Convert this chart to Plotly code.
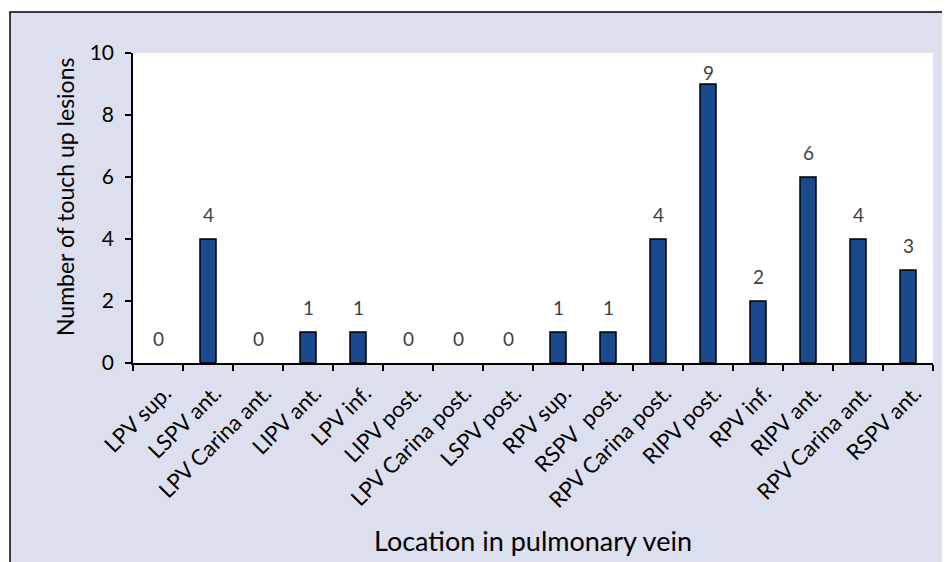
import plotly.graph_objects as go

categories = ["LPV sup.", "LSPV ant.", "LPV Carina ant.", "LIPV ant.", "LPV inf.",
              "LIPV post.", "LPV Carina post.", "LSPV post.", "RPV sup.", "RSPV  post.",
              "RPV Carina post.", "RIPV post.", "RPV inf.", "RIPV ant.", "RPV Carina ant.",
              "RSPV ant."]
values = [0, 4, 0, 1, 1, 0, 0, 0, 1, 1, 4, 9, 2, 6, 4, 3]
y_ticks = [0, 2, 4, 6, 8, 10]

W, H = 950, 562
OFF = 8  # page body offset
L, R, T, B = 133 - OFF, 17 + OFF, 53 - OFF, 199 + OFF
pw, ph = W - L - R, H - T - B
FONT = "Lato, 'Open Sans', sans-serif"


def px_x(sx):
    return (sx - OFF - L) / pw


def px_y(sy):
    return (H - B - (sy - OFF)) / ph


fig = go.Figure()
fig.add_trace(go.Bar(
    x=categories, y=values, width=0.32,
    marker=dict(color="#1A4A8D",
                line=dict(color="#000000", width=[1.5 if v > 0 else 0 for v in values])),
    hoverinfo="skip",
))

px_per_unit = ph / (y_ticks[-1] - y_ticks[0])
annotations = []
for c, v in zip(categories, values):
    dist_top = (y_ticks[-1] - v) * px_per_unit
    ys = min(25, dist_top - 19)
    annotations.append(dict(x=c, y=v, xref="x", yref="y", text=str(v), showarrow=False,
                            yshift=ys, xanchor="center", yanchor="middle",
                            font=dict(family=FONT, size=19, color="#404040")))

annotations.append(dict(x=px_x(533), y=px_y(540), xref="paper", yref="paper",
                        xanchor="center", yanchor="middle",
                        text="Location in pulmonary vein", showarrow=False,
                        font=dict(family=FONT, size=27, color="#000000")))
annotations.append(dict(x=px_x(65), y=px_y(197), xref="paper", yref="paper",
                        xanchor="center", yanchor="middle",
                        text="Number of touch up lesions", showarrow=False, textangle=-90,
                        font=dict(family=FONT, size=23, color="#000000")))

shapes = [
    dict(type="rect", xref="paper", yref="paper", layer="below",
         x0=px_x(10), x1=px_x(W + 20), y0=px_y(H + 20), y1=px_y(12),
         fillcolor="#DCDFEE", line=dict(color="#000000", width=1.5)),
    dict(type="rect", xref="paper", yref="paper", layer="below",
         x0=0, x1=1, y0=0, y1=1, fillcolor="#FFFFFF", line=dict(width=0)),
]

fig.update_layout(
    width=W, height=H,
    margin=dict(l=L, r=R, t=T, b=B),
    paper_bgcolor="#FFFFFF", plot_bgcolor="#FFFFFF",
    showlegend=False,
    font=dict(family=FONT, size=17, color="#000000"),
    annotations=annotations, shapes=shapes,
    xaxis=dict(type="category", tickson="boundaries", ticks="outside", ticklen=6,
               tickcolor="#000000", tickwidth=1.5, showline=True, linecolor="#000000",
               linewidth=1.5, tickangle=-45, showgrid=False, zeroline=False,
               ticklabelstandoff=7, ticklabelshift=7,
               tickfont=dict(family=FONT, size=22, color="#000000"), automargin=False),
    yaxis=dict(range=[0, 10], tickvals=y_ticks, ticks="outside", ticklen=6,
               tickcolor="#000000", tickwidth=1.5, showline=True, linecolor="#000000",
               linewidth=1.5, showgrid=False, zeroline=False, ticklabelstandoff=7,
               tickfont=dict(family=FONT, size=21, color="#000000"), automargin=False),
)

fig.write_html("out.html")
